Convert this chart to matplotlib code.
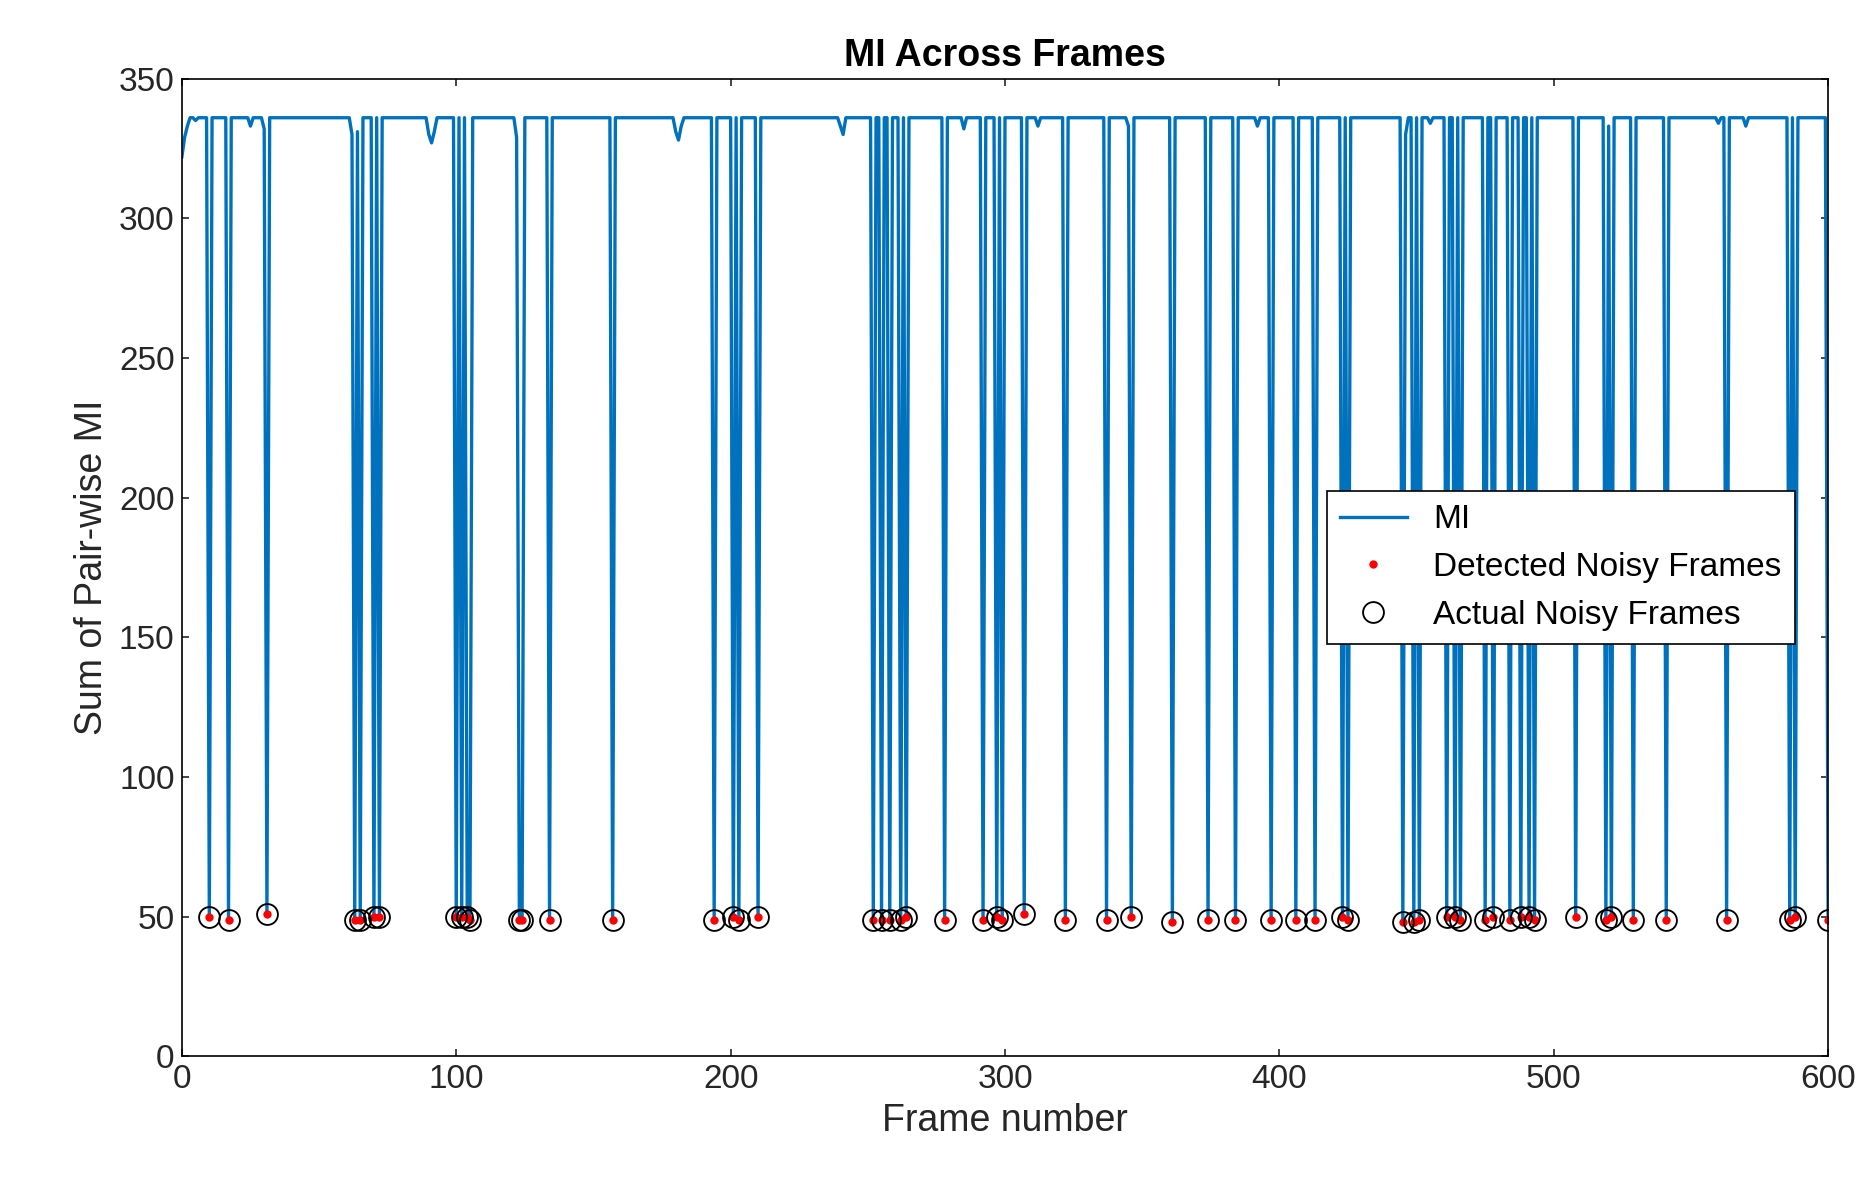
import matplotlib
matplotlib.use("Agg")
import matplotlib.pyplot as plt
import numpy as np

plt.rcParams["font.family"] = ["Liberation Sans", "DejaVu Sans"]

# frames detected as noisy
noisy_frames = [10, 17, 31, 63, 65, 70, 72, 100, 102, 104, 105, 123, 124, 134, 157,
                194, 201, 203, 210, 252, 255, 258, 262, 264, 278, 292, 297, 299, 307,
                322, 337, 346, 361, 374, 384, 397, 406, 413, 423, 425, 445, 449, 451,
                461, 464, 466, 475, 478, 484, 488, 491, 493, 508, 519, 521, 529, 541,
                563, 586, 588, 600]
noisy_values = [50, 49, 51, 49, 49, 50, 50, 50, 50, 50, 49, 49, 49, 49, 49,
                49, 50, 49, 50, 49, 49, 49, 49, 50, 49, 49, 50, 49, 51,
                49, 49, 50, 48, 49, 49, 49, 49, 49, 50, 49, 48, 48, 49,
                50, 50, 49, 49, 50, 49, 50, 50, 49, 50, 49, 50, 49, 49,
                49, 49, 50, 49]
base_level = 336
# small dips in the clean part of the signal: frame -> value
small_dips = {0: 322, 1: 329, 2: 333, 5: 335, 25: 333, 30: 332, 62: 330, 63: 326,
              64: 331, 90: 330, 91: 327, 92: 331, 122: 329, 123: 325, 124: 330,
              180: 331, 181: 328, 182: 333, 240: 333, 241: 330, 285: 332, 312: 333,
              345: 333, 392: 333, 445: 333, 446: 330, 455: 334, 520: 333, 560: 334,
              570: 333}

frames = np.arange(0, 601)
mi = np.full(frames.shape, float(base_level))
for f, v in small_dips.items():
    mi[f] = v
for f, v in zip(noisy_frames, noisy_values):
    mi[f] = v

fig, ax = plt.subplots(figsize=(12.5, 7.94), dpi=150)
ax.plot(frames, mi, color="#0072BD", lw=1.6, label="MI")
ax.plot(noisy_frames, noisy_values, ".", color="red", ms=6, label="Detected Noisy Frames")
ax.plot(noisy_frames, noisy_values, "o", mfc="none", mec="black", ms=10, mew=0.9,
        label="Actual Noisy Frames")

ax.set_xlim(0, 600)
ax.set_ylim(0, 350)
ax.set_xticks(np.arange(0, 601, 100))
ax.set_yticks(np.arange(0, 351, 50))
ax.tick_params(labelsize=16, direction="in", top=True, right=True, color="#262626",
               labelcolor="#262626")
ax.set_xlabel("Frame number", fontsize=18, color="#262626")
ax.set_ylabel("Sum of Pair-wise MI", fontsize=18, color="#262626")
ax.set_title("MI Across Frames", fontsize=18, fontweight="bold")
leg = ax.legend(loc="center right", bbox_to_anchor=(0.98, 0.5), fontsize=16,
                fancybox=False, edgecolor="black", framealpha=1, borderaxespad=0)
leg.get_frame().set_linewidth(0.8)
plt.subplots_adjust(left=0.097, right=0.975, top=0.934, bottom=0.113)
plt.savefig("out.png", dpi=150)
